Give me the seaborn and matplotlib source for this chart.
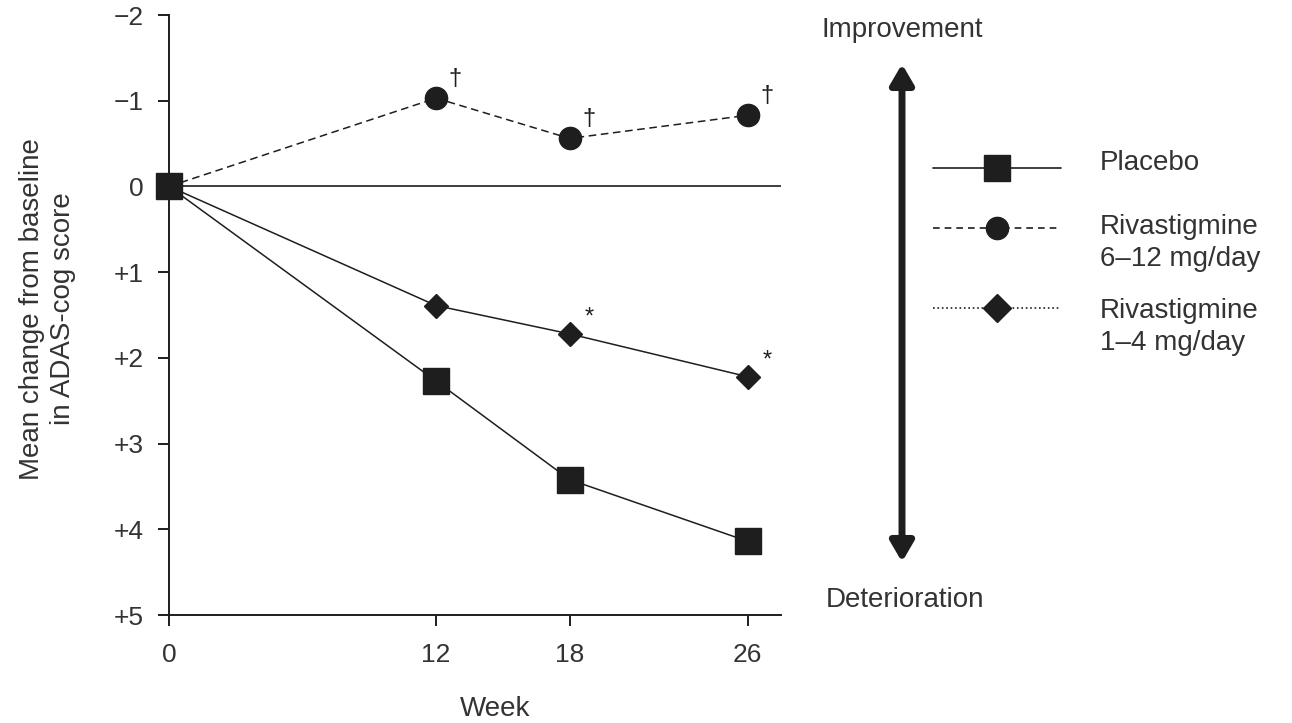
import matplotlib
matplotlib.use('Agg')
import matplotlib.pyplot as plt
import seaborn as sns
import pandas as pd

# Data (mean change from baseline in ADAS-cog, inverted axis)
weeks = [0, 12, 18, 26]
placebo = [0, 2.27, 3.42, 4.14]
riva_high = [0, -1.03, -0.56, -0.83]
riva_low = [0, 1.39, 1.72, 2.22]
group_names = ['Placebo', 'Rivastigmine\n6–12 mg/day', 'Rivastigmine\n1–4 mg/day']
y_ticks = [-2, -1, 0, 1, 2, 3, 4, 5]
y_tick_labels = ['−2', '−1', '0', '+1', '+2', '+3', '+4', '+5']
dagger_weeks = [12, 18, 26]   # significance marks on high dose
star_weeks = [18, 26]         # significance marks on low dose

df = pd.DataFrame({
    'week': weeks * 3,
    'change': placebo + riva_high + riva_low,
    'group': [g for g in group_names for _ in weeks],
})

sns.set_style('ticks')
plt.rcParams['font.family'] = ['Liberation Sans', 'DejaVu Sans']

ink = '#1e1e1e'
txt = '#333333'

W, H = 1292, 723
fig = plt.figure(figsize=(W / 100, H / 100), dpi=100)
ax = fig.add_axes([169 / W, 108 / H, 612 / W, 600 / H])

styles = {
    group_names[0]: dict(marker='s', markersize=19, linestyle='-', zorder=5),
    group_names[1]: dict(marker='o', markersize=16, linestyle=(0, (5, 3)), zorder=3),
    group_names[2]: dict(marker='D', markersize=12, linestyle='-', zorder=3),
}

ax.axhline(0, color=ink, lw=1.2, zorder=1)
for name in group_names:
    sub = df[df['group'] == name]
    sns.lineplot(data=sub, x='week', y='change', ax=ax, color=ink, lw=1.1,
                 markeredgecolor=ink, markeredgewidth=1, errorbar=None,
                 legend=False, clip_on=False, **styles[name])

# significance marks
high = df[df['group'] == group_names[1]].set_index('week')['change']
low = df[df['group'] == group_names[2]].set_index('week')['change']
for w in dagger_weeks:
    ax.annotate('†', (w, high[w]), xytext=(14, 14), textcoords='offset points',
                ha='center', va='center', fontsize=17, color=ink)
for w in star_weeks:
    ax.annotate('*', (w, low[w]), xytext=(14, 12), textcoords='offset points',
                ha='center', va='center', fontsize=17, color=ink)

ax.set_ylim(5, -2)
ax.set_xlim(0, 27.5)
ax.set_yticks(y_ticks)
ax.set_yticklabels(y_tick_labels)
ax.set_xticks(weeks)
ax.set_xticklabels([str(w) for w in weeks])
sns.despine(ax=ax)
for s in ['left', 'bottom']:
    ax.spines[s].set_linewidth(1.4)
    ax.spines[s].set_color(ink)
ax.tick_params(axis='both', length=8, width=1.4, color=ink, labelsize=19,
               labelcolor=txt)
ax.tick_params(axis='y', pad=10)
ax.tick_params(axis='x', pad=12)

ax.set_xlabel('Week', fontsize=20, color=txt)
ax.xaxis.set_label_coords(0.533, -0.135)
ax.set_ylabel('Mean change from baseline\nin ADAS-cog score', fontsize=20,
              color=txt, linespacing=1.25)
ax.yaxis.set_label_coords(-0.152, 0.51)

# overlay in pixel space for arrow and legend
ov = fig.add_axes([0, 0, 1, 1], facecolor='none')
ov.set_xlim(0, W)
ov.set_ylim(H, 0)
ov.axis('off')

ov.annotate('', xy=(902, 64), xytext=(902, 562),
            arrowprops=dict(arrowstyle='<|-|>,head_length=0.6,head_width=0.35',
                            lw=5, color=ink, shrinkA=0, shrinkB=0,
                            mutation_scale=20))
ov.text(902, 30, 'Improvement', ha='center', va='center', fontsize=20, color=txt)
ov.text(905, 600, 'Deterioration', ha='center', va='center', fontsize=20, color=txt)

legend_rows = [
    (group_names[0], 168, 163, '-', 's', 19),
    (group_names[1], 228, 243, (0, (4, 3)), 'o', 16),
    (group_names[2], 308, 327, ':', 'D', 14),
]
for label, ly, ty, ls, mk, ms in legend_rows:
    ov.plot([933, 1061], [ly, ly], color=ink, lw=1.2, linestyle=ls)
    ov.plot([997], [ly], marker=mk, markersize=ms, color=ink, linestyle='none')
    ov.text(1100, ty, label, ha='left', va='center', fontsize=20, color=txt,
            linespacing=1.25)

fig.savefig('out.png', dpi=100)
